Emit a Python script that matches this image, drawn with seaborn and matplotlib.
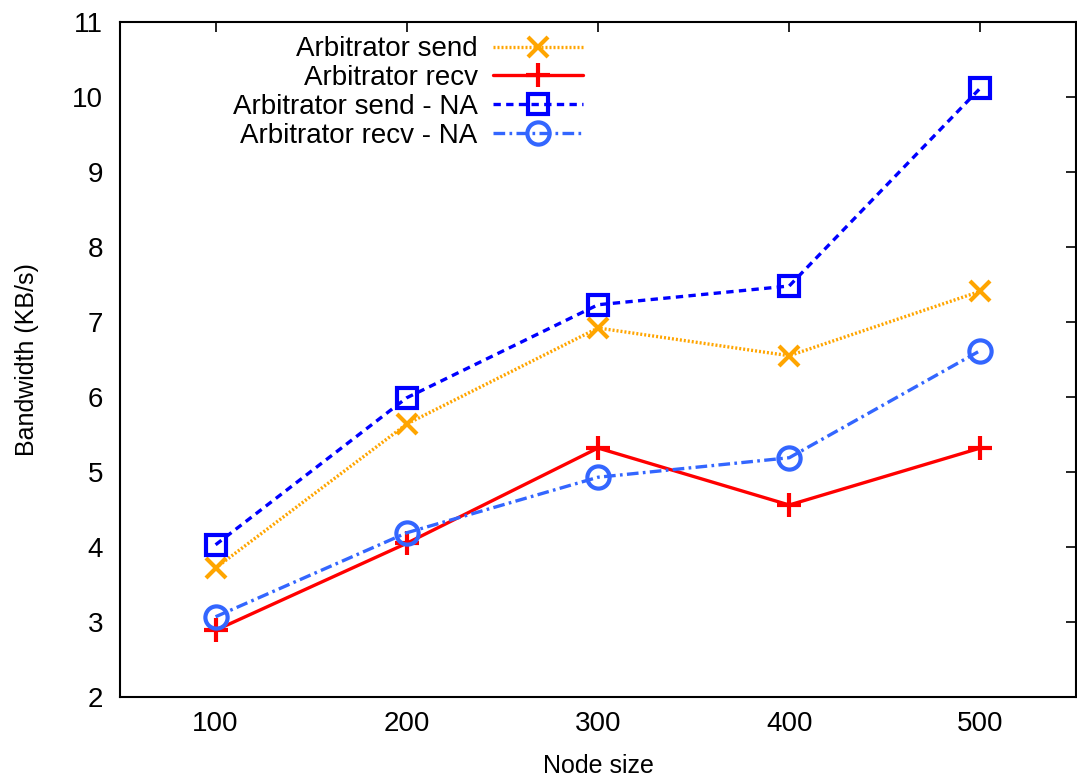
import matplotlib
matplotlib.use("Agg")
import matplotlib.pyplot as plt
import seaborn as sns
import pandas as pd

node_sizes = [100, 200, 300, 400, 500]
arb_send = [3.72, 5.64, 6.92, 6.55, 7.41]
arb_recv = [2.89, 4.05, 5.32, 4.56, 5.32]
arb_send_na = [4.03, 5.99, 7.23, 7.48, 10.12]
arb_recv_na = [3.07, 4.19, 4.93, 5.19, 6.62]
series_names = ["Arbitrator send", "Arbitrator recv",
                "Arbitrator send - NA", "Arbitrator recv - NA"]
x_ticks = [100, 200, 300, 400, 500]
y_ticks = [2, 3, 4, 5, 6, 7, 8, 9, 10, 11]

sns.set_theme(style="white")
plt.rcParams['font.family'] = ['Liberation Sans', 'DejaVu Sans']
plt.rcParams['text.color'] = 'black'
plt.rcParams['axes.labelcolor'] = 'black'

fig = plt.figure(figsize=(10.77, 7.84), dpi=100)
ax = fig.add_axes([120/1077, (784-697)/784, (1076-120)/1077, (697-22)/784])

styles = [
    dict(color="#FFA500", marker="x", linestyle=(0, (0.6, 0.6)), ms=15, mew=3),
    dict(color="#FF0000", marker="+", linestyle="-", ms=17, mew=3),
    dict(color="#0000FF", marker="s", linestyle=(0, (2.2, 1.6)), ms=15, mew=3),
    dict(color="#3366FF", marker="o", linestyle=(0, (3.5, 1.3, 0.8, 1.3)), ms=16, mew=3),
]
values = [arb_send, arb_recv, arb_send_na, arb_recv_na]

for name, vals, st in zip(series_names, values, styles):
    df = pd.DataFrame({"x": node_sizes, "y": vals})
    sns.lineplot(data=df, x="x", y="y", ax=ax, label=name,
                 color=st["color"], marker=st["marker"], linestyle=st["linestyle"],
                 markersize=st["ms"], markeredgewidth=st["mew"],
                 markerfacecolor="none", markeredgecolor=st["color"],
                 linewidth=2.4)

ax.set_xlim(50, 550)
ax.set_ylim(2, 11)
ax.set_xticks(x_ticks)
ax.set_yticks(y_ticks)
ax.tick_params(direction="in", length=7, width=1.2, top=True, right=True,
               labelsize=20, colors="black", pad=10)
ax.tick_params(axis="y", pad=12)
for sp in ax.spines.values():
    sp.set_color("black")
    sp.set_linewidth(1.5)
ax.set_xlabel("Node size", fontsize=18, labelpad=12)
ax.set_ylabel("Bandwidth (KB/s)", fontsize=18, labelpad=24)

leg = ax.legend(loc="upper right", bbox_to_anchor=(0.493, 0.991), frameon=False,
                markerfirst=False, fontsize=20, handlelength=3.24,
                labelspacing=0.1, handletextpad=0.55, numpoints=1,
                borderaxespad=0.0, borderpad=0.3)
for t in leg.get_texts():
    t.set_ha("right")
    t.set_color("black")
leg._legend_box.align = "right"

fig.savefig("out.png", dpi=100)
